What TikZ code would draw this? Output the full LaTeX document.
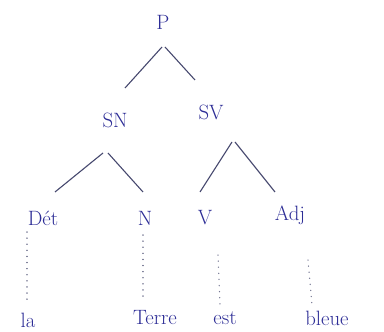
\documentclass[tikz,border=0pt]{standalone}
\usepackage{tikz}
\usetikzlibrary{calc}
\definecolor{ink}{RGB}{45,45,150}
\definecolor{pencil}{RGB}{70,72,110}

\begin{document}
\begin{tikzpicture}[
  x=1pt, y=1pt,
  font=\huge,
  cat/.style={text=ink, inner sep=0pt},
  word/.style={text=ink, inner sep=0pt},
  edge/.style={draw=pencil, line width=1.1pt},
  lex/.style={draw=pencil!75, line width=1.4pt, line cap=round, dash pattern=on 0.1pt off 6pt}
]
  \useasboundingbox (0,0) rectangle (384,332);

  % categories
  \node[cat] (P) at (163,310) {P};
  \node[cat] (SN) at (115,212) {SN};
  \node[cat] (SV) at (211,220) {SV};
  \node[cat] (Det) at (43,114) {Dét};
  \node[cat] (N) at (145,114) {N};
  \node[cat] (V) at (205,114) {V};
  \node[cat] (Adj) at (290,117) {Adj};

  % words
  \node[word] (la) at (28,12) {la};
  \node[word] (Terre) at (155,14) {Terre};
  \node[word] (est) at (225,14) {est};
  \node[word] (bleue) at (327,14) {bleue};

  \draw[edge] ($(P)+(-1,-25)$) -- ($(SN)+(10,32)$);
  \draw[edge] ($(P)+(2,-25)$) -- ($(SV)+(-16,32)$);
  \draw[edge] ($(SN)+(-12,-33)$) -- ($(Det)+(12,26)$);
  \draw[edge] ($(SN)+(-7,-33)$) -- ($(N)+(-2,26)$);
  \draw[edge] ($(SV)+(21,-30)$) -- ($(V)+(-5,26)$);
  \draw[edge] ($(SV)+(24,-30)$) -- ($(Adj)+(-15,23)$);

  \draw[lex] ($(Det)+(-16,-14)$) -- ($(la)+(-1,20)$);
  \draw[lex] ($(N)+(-2,-17)$) -- ($(Terre)+(-12,18)$);
  \draw[lex] ($(V)+(13,-37)$) -- ($(est)+(-5,13)$);
  \draw[lex] ($(Adj)+(18,-45)$) -- ($(bleue)+(-15,13)$);
\end{tikzpicture}
\end{document}
